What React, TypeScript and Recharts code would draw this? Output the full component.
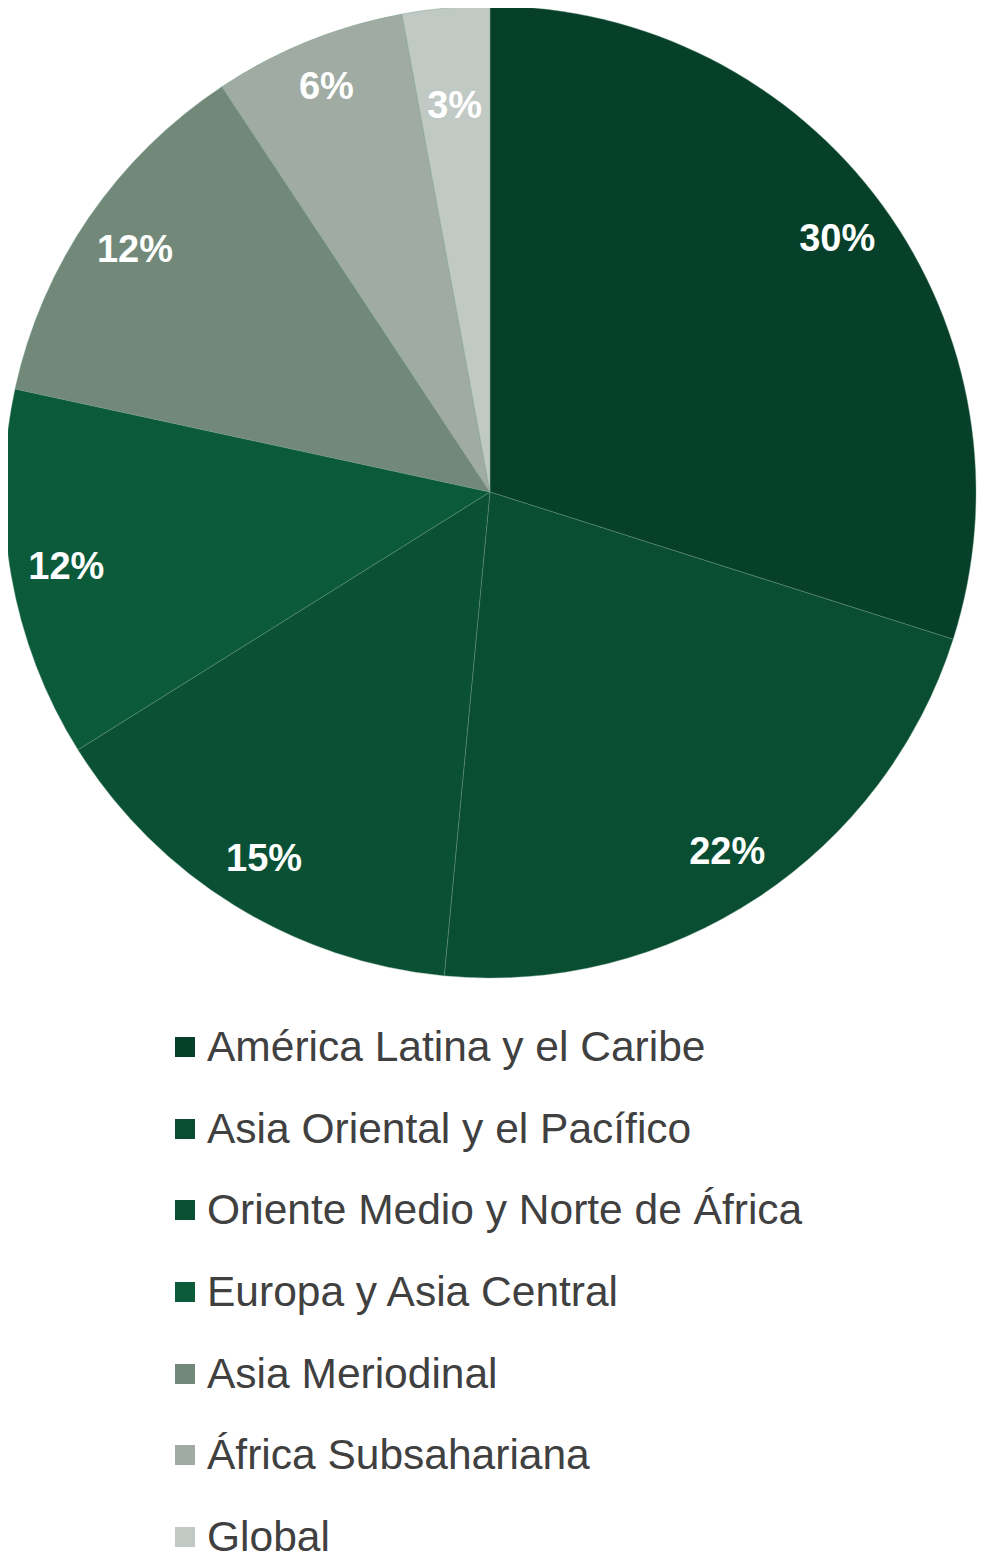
import React from "react";
import { PieChart, Pie, Cell } from "recharts";

const regions = [
  "América Latina y el Caribe",
  "Asia Oriental y el Pacífico",
  "Oriente Medio y Norte de África",
  "Europa y Asia Central",
  "Asia Meriodinal",
  "África Subsahariana",
  "Global",
];
const shares = [29.9, 21.6, 14.6, 12.3, 12.3, 6.4, 2.9];
const shareLabels = ["30%", "22%", "15%", "12%", "12%", "6%", "3%"];
const colors = ["#07402A", "#094D32", "#0A5034", "#0B5A3A", "#72897A", "#A0ACA3", "#C0C9C4"];

const data = regions.map((name, i) => ({ name, value: shares[i], label: shareLabels[i] }));

const RAD = Math.PI / 180;

const renderLabel = (props: any) => {
  const { cx, cy, midAngle, outerRadius, index } = props;
  const f = shares[index] < 4 ? 0.8 : shares[index] < 8 ? 0.9 : 0.885;
  const r = outerRadius * f;
  const x = cx + r * Math.cos(-midAngle * RAD);
  const y = cy + r * Math.sin(-midAngle * RAD);
  return (
    <text
      x={x}
      y={y}
      fill="#FFFFFF"
      textAnchor="middle"
      dominantBaseline="central"
      fontFamily="'Liberation Sans', Arial, sans-serif"
      fontWeight="bold"
      fontSize={38}
    >
      {shareLabels[index]}
    </text>
  );
};

const LegendBlock = () => (
  <div style={{ paddingLeft: 167, paddingTop: 14 }}>
    {data.map((d, i) => (
      <div
        key={d.name}
        style={{
          display: "flex",
          alignItems: "center",
          height: 81.7,
          fontFamily: "'Liberation Sans', Arial, sans-serif",
          fontSize: 42.5,
          color: "#404040",
          whiteSpace: "nowrap",
        }}
      >
        <span
          style={{
            display: "inline-block",
            width: 20,
            height: 20,
            background: colors[i],
            marginRight: 12,
            flexShrink: 0,
          }}
        />
        <span>{d.name}</span>
      </div>
    ))}
  </div>
);

export default function App() {
  return (
    <div style={{ width: 977 }}>
      <PieChart width={977} height={984} margin={{ top: 0, right: 0, bottom: 0, left: 0 }}>
        <Pie
          data={data}
          dataKey="value"
          nameKey="name"
          cx={482}
          cy={484}
          outerRadius={486}
          startAngle={90}
          endAngle={-270}
          stroke="#6f9a84"
          strokeWidth={0.4}
          label={renderLabel}
          labelLine={false}
          isAnimationActive={false}
        >
          {data.map((d, i) => (
            <Cell key={d.name} fill={colors[i]} />
          ))}
        </Pie>
      </PieChart>
      <LegendBlock />
    </div>
  );
}
